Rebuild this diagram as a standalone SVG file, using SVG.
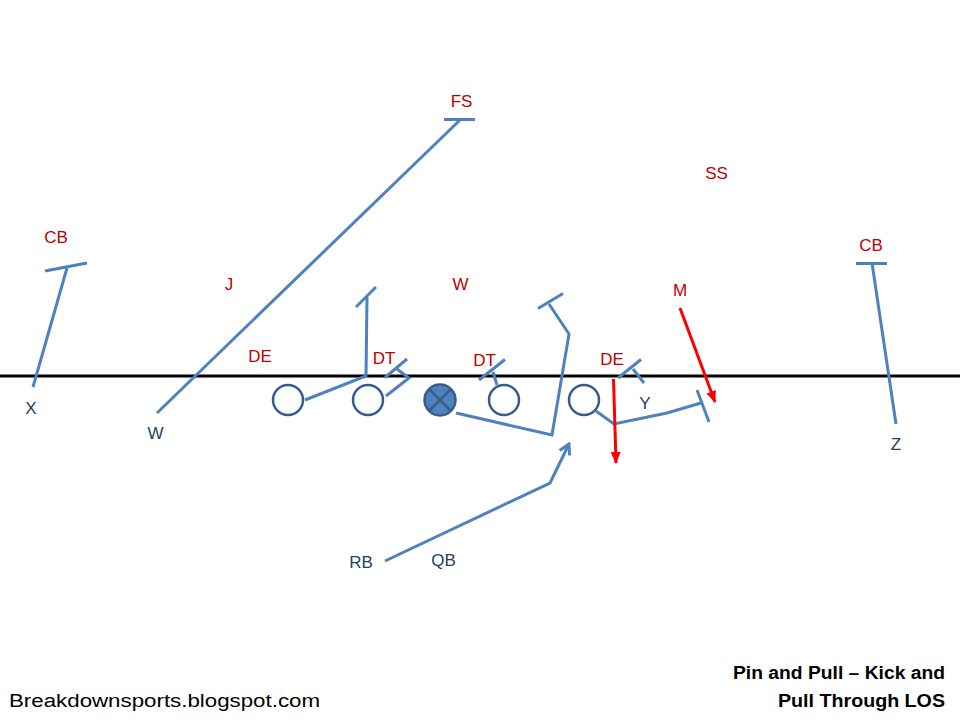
<svg xmlns="http://www.w3.org/2000/svg" width="960" height="720" viewBox="0 0 960 720">
<defs>
<style>
.rt{stroke:#4f81bd;stroke-width:3;fill:none;stroke-linejoin:miter}
.ol{fill:#fff;stroke:#385d8a;stroke-width:2.5}
.def{font-family:"Liberation Sans",Arial,sans-serif;font-size:17px;fill:#c00000;text-anchor:middle}
.off{font-family:"Liberation Sans",Arial,sans-serif;font-size:17px;fill:#243f60;text-anchor:middle}
.red{stroke:#ff0000;stroke-width:3;fill:none}
.cap{font-family:"Liberation Sans",Arial,sans-serif;font-size:18px;fill:#000}
</style>
<marker id="ra" markerUnits="userSpaceOnUse" markerWidth="12" markerHeight="12" viewBox="0 0 12 12" refX="11" refY="6" orient="auto">
<path d="M0,1 L12,6 L0,11 Z" fill="#ff0000"/>
</marker>
<marker id="ba" markerUnits="userSpaceOnUse" markerWidth="14" markerHeight="14" viewBox="0 0 14 14" refX="12" refY="7" orient="auto">
<path d="M2,1.5 L12,7 L2,12.5" fill="none" stroke="#4f81bd" stroke-width="3"/>
</marker>
</defs>
<rect width="960" height="720" fill="#fff"/>
<line id="los" x1="0" y1="376" x2="960" y2="376" stroke="#000" stroke-width="3"/>
<g id="connectors">
<polyline class="rt" points="33,387 67,268"/>
<line class="rt" x1="45" y1="271" x2="87" y2="263"/>
<polyline class="rt" points="157,413 460,120"/>
<line class="rt" x1="444" y1="119.5" x2="475" y2="119.5"/>
<polyline class="rt" points="305,400 366,376 367,297"/>
<line class="rt" x1="356" y1="307" x2="376" y2="287"/>
<polyline class="rt" points="386,396 409,378 397,369"/>
<line class="rt" x1="385" y1="377.5" x2="407" y2="359"/>
<polyline class="rt" points="456,413 552,435 569,334 549,304"/>
<line class="rt" x1="538" y1="308.5" x2="563" y2="293.5"/>
<polyline class="rt" points="497,385 493,372"/>
<line class="rt" x1="479" y1="380" x2="505" y2="359.5"/>
<polyline class="rt" points="596,411 614,424 667,413 701,403"/>
<line class="rt" x1="697" y1="390" x2="709" y2="422"/>
<polyline class="rt" points="633,369 644,383"/>
<line class="rt" x1="618" y1="378" x2="641" y2="359.5"/>
<polyline class="rt" points="872,263 896,424"/>
<line class="rt" x1="856" y1="263.5" x2="887" y2="263.5"/>
<polyline class="rt" points="385,561 550,483 569,444" marker-end="url(#ba)"/>
<line class="red" x1="613.5" y1="379" x2="616" y2="463" marker-end="url(#ra)"/>
<line class="red" x1="680" y1="308" x2="715" y2="402" marker-end="url(#ra)"/>
</g>
<g id="ol1"><circle class="ol" cx="288" cy="400" r="15"/></g>
<g id="ol2"><circle class="ol" cx="368" cy="400" r="15"/></g>
<g id="center"><circle cx="440" cy="400" r="15.5" fill="#4f81bd" stroke="#385d8a" stroke-width="2.5"/>
<line x1="429" y1="389" x2="451" y2="411" stroke="#385d8a" stroke-width="2.5"/>
<line x1="451" y1="389" x2="429" y2="411" stroke="#385d8a" stroke-width="2.5"/></g>
<g id="ol4"><circle class="ol" cx="504" cy="400" r="15"/></g>
<g id="ol5"><circle class="ol" cx="584" cy="400" r="15"/></g>
<g id="defense">
<text class="def" x="461.5" y="107">FS</text>
<text class="def" x="716.5" y="179">SS</text>
<text class="def" x="56" y="243">CB</text>
<text class="def" x="871" y="250.5">CB</text>
<text class="def" x="229" y="290">J</text>
<text class="def" x="460.5" y="290">W</text>
<text class="def" x="680" y="295.5">M</text>
<text class="def" x="260" y="361.5">DE</text>
<text class="def" x="384" y="363.5">DT</text>
<text class="def" x="484.5" y="365.5">DT</text>
<text class="def" x="612" y="365">DE</text>
</g>
<g id="offense">
<text class="off" x="31" y="414">X</text>
<text class="off" x="155.5" y="439">W</text>
<text class="off" x="645" y="409">Y</text>
<text class="off" x="896" y="450">Z</text>
<text class="off" x="361" y="568">RB</text>
<text class="off" x="443.5" y="565.5">QB</text>
</g>
<g id="captions">
<text class="cap" x="9" y="707" textLength="311" lengthAdjust="spacingAndGlyphs">Breakdownsports.blogspot.com</text>
<text class="cap" x="945" y="679" text-anchor="end" font-weight="bold" textLength="212" lengthAdjust="spacingAndGlyphs">Pin and Pull – Kick and</text>
<text class="cap" x="945" y="707" text-anchor="end" font-weight="bold" textLength="167" lengthAdjust="spacingAndGlyphs">Pull Through LOS</text>
</g>
</svg>
